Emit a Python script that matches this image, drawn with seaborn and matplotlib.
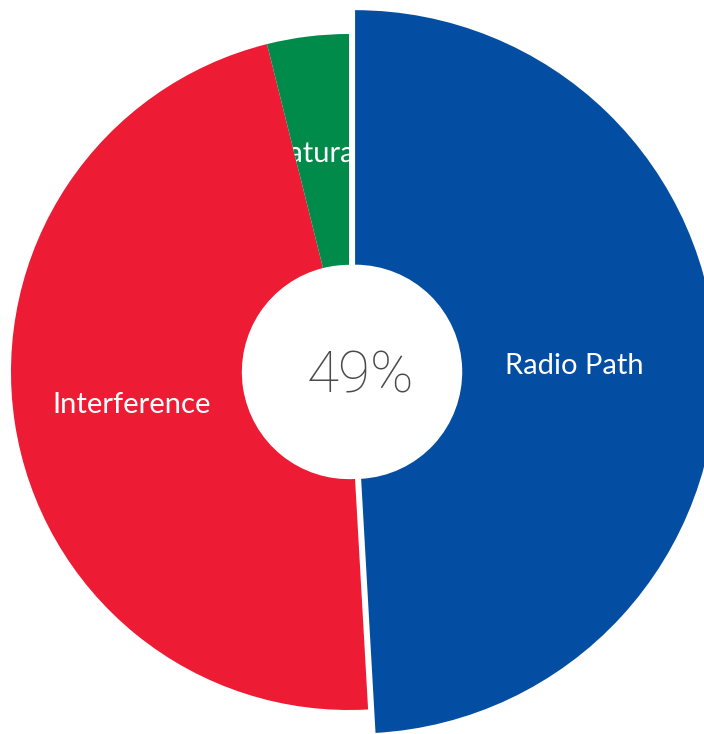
import matplotlib
matplotlib.use("Agg")
import matplotlib.pyplot as plt
import matplotlib.patheffects as pe
import seaborn as sns

# slice data (clockwise from 12 o'clock)
causes = ["Radio Path", "Interference", "Natural"]
shares = [49.1, 47.0, 3.9]
colors = ["#034EA2", "#ED1C34", "#008B4A"]
center_label = "49%"

sns.set_theme(style="white")
plt.rcParams['font.family'] = ['Lato', 'DejaVu Sans']

fig = plt.figure(figsize=(7.04, 7.34), dpi=100)
ax = fig.add_axes([0, 0, 1, 1])

hole = 0.317
wedges, texts = ax.pie(shares, labels=causes, colors=colors, startangle=90,
                       counterclock=False, explode=[0.018, 0, 0],
                       labeldistance=0.65,
                       wedgeprops=dict(width=1 - hole, linewidth=0),
                       textprops=dict(color="white", fontsize=21, ha="center", va="center"))

# selected slice is pulled out and drawn a bit bigger
wedges[0].set_radius(1.07)
wedges[0].set_width(1.07 - hole)

# the small slice's label only shows inside its own wedge
texts[2].set_path_effects([pe.Normal()])
texts[2].set_clip_path(wedges[2])
texts[2].set_clip_on(True)
lx, ly = texts[2].get_position()
texts[2].set_position((lx - 0.025, ly))

ax.text(0.035, -0.015, center_label, ha="center", va="center", fontsize=42,
        color="#4a4a4a", family=["Roboto", "DejaVu Sans"], fontweight="light")

# the picture is cropped tight round the donut
ax.set_xlim(-1.0325, 1.0503)
ax.set_ylim(-1.071, 1.1006)
ax.set_aspect("auto")
ax.axis("off")

fig.savefig("out.png", dpi=100, facecolor="white")
